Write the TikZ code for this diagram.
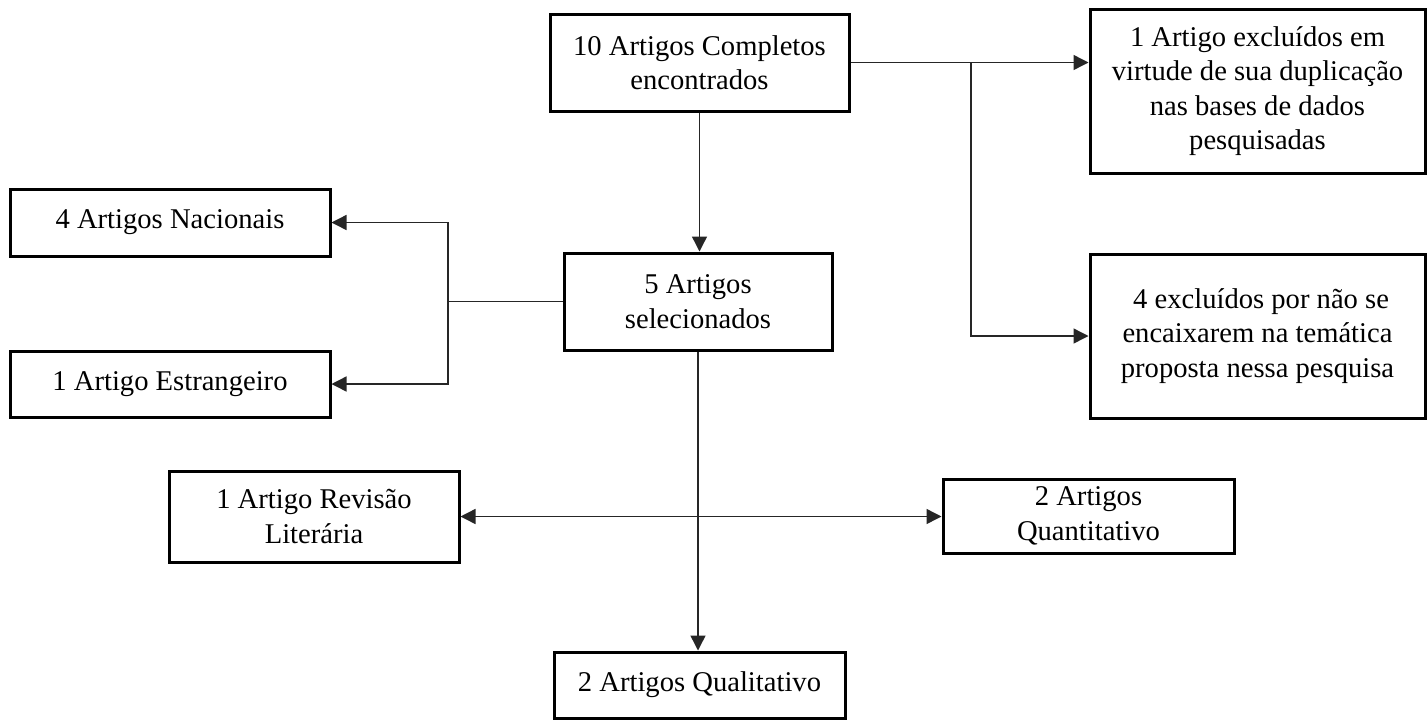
\documentclass[tikz,border=0pt]{standalone}
\usepackage{fontspec}
\setmainfont{Liberation Serif}
\usetikzlibrary{arrows.meta}
\begin{document}
\begin{tikzpicture}[x=1pt,y=-1pt,
  box/.style={draw=black,line width=3pt,rectangle,inner sep=0pt,align=center,
    font=\fontsize{28.6}{34.5}\selectfont},
  conn/.style={draw=black!85,line width=1.4pt},
  arr/.style={conn,-{Triangle[length=15pt,width=15pt]}},
  darr/.style={conn,{Triangle[length=15pt,width=15pt]}-{Triangle[length=15pt,width=15pt]}}]
\useasboundingbox (0,0) rectangle (1428,724);
\fill[white] (0,0) rectangle (1428,724);

\node[box,minimum width=299pt,minimum height=97pt] (A) at (699.5,62.5) {10 Artigos Completos\\encontrados};
\node[box,minimum width=335pt,minimum height=164pt] (B) at (1257.5,91) {1 Artigo excluídos em\\virtude de sua duplicação\\nas bases de dados\\pesquisadas};
\node[box,minimum width=320pt,minimum height=67pt] (C) at (170,222.5) {4 Artigos Nacionais};
\node[box,minimum width=268pt,minimum height=97pt] (D) at (698,301.5) {5 Artigos\\selecionados};
\node[box,minimum width=320pt,minimum height=66pt] (E) at (170,384) {1 Artigo Estrangeiro};
\node[box,minimum width=335pt,minimum height=164pt] (F) at (1257.5,336) {\ 4 excluídos por não se\\encaixarem na temática\\proposta nessa pesquisa};
\node[box,minimum width=290pt,minimum height=91pt] (G) at (314,516.5) {1 Artigo Revisão\\Literária};
\node[box,minimum width=291pt,minimum height=74pt] (H) at (1088.5,516) {2 Artigos\\Quantitativo};
\node[box,minimum width=291pt,minimum height=66pt] (I) at (699.5,685) {2 Artigos Qualitativo};

\coordinate (j1) at (971,62.5);
\coordinate (j2) at (448,301.5);

\draw[arr] (A.east) -- (A.east -| B.west);
\draw[arr] (j1) |- (F.west);
\draw[arr] (A.south) -- (A.south |- D.north);
\draw[conn] (D.west) -- (j2);
\draw[arr] (j2) |- (C.east);
\draw[arr] (j2) |- (E.east);
\draw[arr] (D.south) -- (D.south |- I.north);
\draw[darr] (G.east) -- (G.east -| H.west);
\end{tikzpicture}
\end{document}
